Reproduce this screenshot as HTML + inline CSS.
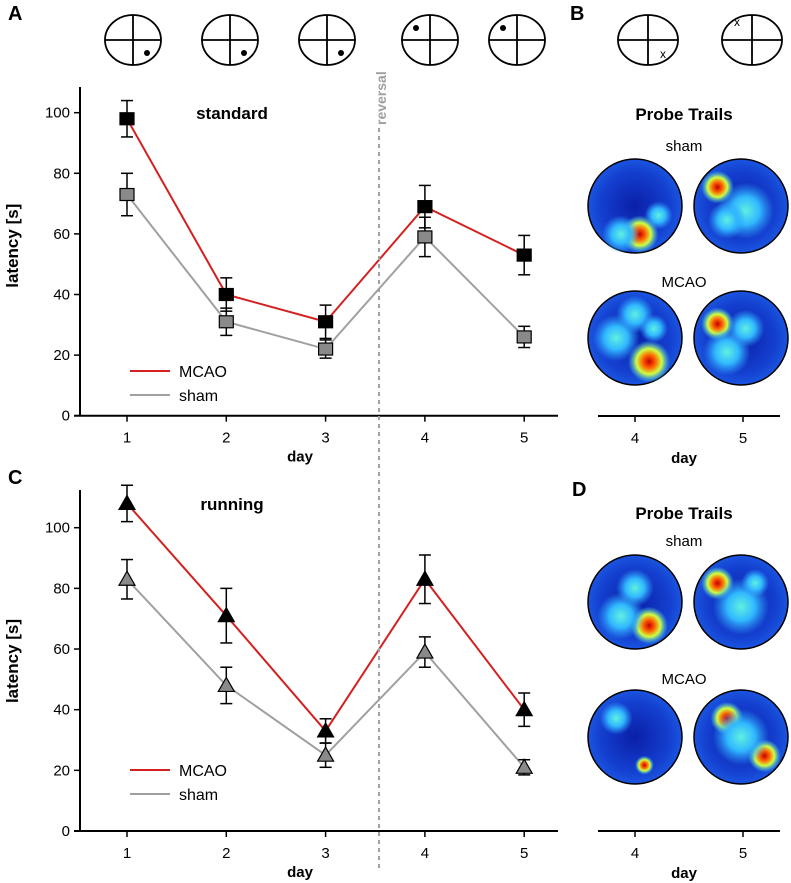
<!DOCTYPE html>
<html><head><meta charset="utf-8">
<style>
body{margin:0;background:#fff;}
svg{display:block;font-family:"Liberation Sans",Arial,sans-serif;}
</style></head>
<body>
<svg id="fig" width="791" height="883" viewBox="0 0 791 883">
<defs>
<radialGradient id="bg" cx="50%" cy="50%" r="50%">
<stop offset="0" stop-color="#0a1fa8"/><stop offset="0.75" stop-color="#1440d0"/><stop offset="1" stop-color="#1a55e0"/>
</radialGradient>
<radialGradient id="hot" cx="50%" cy="50%" r="50%">
<stop offset="0" stop-color="#c00000"/><stop offset="0.3" stop-color="#ff6000"/><stop offset="0.6" stop-color="#d0ff40"/><stop offset="1" stop-color="#40e0ff" stop-opacity="0"/>
</radialGradient>
<radialGradient id="warm" cx="50%" cy="50%" r="50%">
<stop offset="0" stop-color="#60f0e0"/><stop offset="0.5" stop-color="#30b8ff"/><stop offset="1" stop-color="#30a0ff" stop-opacity="0"/>
</radialGradient>
</defs>
<g id="chartA"></g>
<g id="chartC"></g>
<g id="extras"></g>
</svg>
<script>
const days = [1,2,3,4,5];
const stdMcao = [98,40,31,69,53];
const stdMcaoErr = [6,5.5,5.5,7,6.5];
const stdSham = [73,31,22,59,26];
const stdShamErr = [7,4.5,3,6.5,3.5];
const runMcao = [108,71,33,83,40];
const runMcaoErr = [6,9,4,8,5.5];
const runSham = [83,48,25,59,21];
const runShamErr = [6.5,6,4,5,2.5];
const yTicksA = [0,20,40,60,80,100];
const yTicksC = [0,20,40,60,80,100];

const NS="http://www.w3.org/2000/svg";
function mk(parent,tag,attrs,text){const e=document.createElementNS(NS,tag);for(const k in attrs)e.setAttribute(k,attrs[k]);if(text!==undefined)e.textContent=text;parent.appendChild(e);return e;}

function drawChart(g,cfg){
  const xs=d=>127+(d-1)*99.3;
  const ys=v=>cfg.y0-v*cfg.k;
  const yax=mk(g,'line',{x1:80,y1:cfg.top,x2:80,y2:cfg.y0,stroke:'#000','stroke-width':2});
  
  const xax=mk(g,'line',{x1:74,y1:cfg.y0,x2:558,y2:cfg.y0,stroke:'#000','stroke-width':2});
  
  cfg.yt.forEach(v=>{
    mk(g,'line',{x1:74,y1:ys(v),x2:80,y2:ys(v),stroke:'#000','stroke-width':1.5});
    const t=mk(g,'text',{x:70,y:ys(v)+5,'text-anchor':'end','font-size':15},String(v));
    
  });
  days.forEach(d=>{
    mk(g,'line',{x1:xs(d),y1:cfg.y0,x2:xs(d),y2:cfg.y0+6,stroke:'#000','stroke-width':1.5});
    const t=mk(g,'text',{x:xs(d),y:cfg.y0+27,'text-anchor':'middle','font-size':15},String(d));
    
  });
  const xl=mk(g,'text',{x:300,y:cfg.y0+46,'text-anchor':'middle','font-size':15,'font-weight':'bold'},'day');
  
  const yl=mk(g,'text',{x:0,y:0,'text-anchor':'middle','font-size':17,'font-weight':'bold',transform:`translate(18,${cfg.y0-170}) rotate(-90)`},'latency [s]');
  
  const tt=mk(g,'text',{x:232,y:cfg.titleY,'text-anchor':'middle','font-size':17,'font-weight':'bold'},cfg.title);
  
  const series=[[cfg.sham,cfg.shamE,'#a0a0a0','#8a8a8a','sham'],[cfg.mcao,cfg.mcaoE,'#d42020','#000','mcao']];
  series.forEach(([vals,errs,lc,fc,nm])=>{
    const pl=mk(g,'polyline',{points:vals.map((v,i)=>xs(days[i])+','+ys(v)).join(' '),fill:'none',stroke:lc,'stroke-width':2});
    
    vals.forEach((v,i)=>{
      const x=xs(days[i]),y=ys(v),e=errs[i];
      mk(g,'line',{x1:x,y1:ys(v+e),x2:x,y2:ys(v-e),stroke:'#000','stroke-width':1.5});
      mk(g,'line',{x1:x-6,y1:ys(v+e),x2:x+6,y2:ys(v+e),stroke:'#000','stroke-width':1.5});
      mk(g,'line',{x1:x-6,y1:ys(v-e),x2:x+6,y2:ys(v-e),stroke:'#000','stroke-width':1.5});
      let m;
      if(cfg.marker==='sq') m=mk(g,'rect',{x:x-7,y:y-6,width:14,height:12,fill:fc,stroke:'#000','stroke-width':1.2});
      else m=mk(g,'polygon',{points:`${x},${y-8} ${x-8},${y+6} ${x+8},${y+6}`,fill:fc,stroke:'#000','stroke-width':1.2});
      
    });
  });
  const ly=cfg.legY;
  mk(g,'line',{x1:130,y1:ly,x2:170,y2:ly,stroke:'#d42020','stroke-width':2});
  const l1=mk(g,'text',{x:179,y:ly+6,'font-size':16},'MCAO');
  
  mk(g,'line',{x1:130,y1:ly+24,x2:170,y2:ly+24,stroke:'#a0a0a0','stroke-width':2});
  const l2=mk(g,'text',{x:179,y:ly+30,'font-size':16},'sham');
  
}
drawChart(document.getElementById('chartA'),{y0:415.7,k:3.03,top:87,yt:yTicksA,mcao:stdMcao,mcaoE:stdMcaoErr,sham:stdSham,shamE:stdShamErr,marker:'sq',title:'standard',titleY:119,legY:371});
drawChart(document.getElementById('chartC'),{y0:831,k:3.033,top:490,yt:yTicksC,mcao:runMcao,mcaoE:runMcaoErr,sham:runSham,shamE:runShamErr,marker:'tri',title:'running',titleY:510,legY:770});

const ex=document.getElementById('extras');
[['A',8,20],['B',570,20],['C',8,484],['D',572,496]].forEach(([l,x,y])=>{
  const t=mk(ex,'text',{x:x,y:y,'font-size':20,'font-weight':'bold'},l);
  
});
const rv=mk(ex,'line',{x1:379,y1:80,x2:379,y2:868,stroke:'#a0a0a0','stroke-width':2,'stroke-dasharray':'4,4'});

mk(ex,'rect',{x:372,y:78,width:14,height:50,fill:'#fff'});
const rt=mk(ex,'text',{x:0,y:0,'font-size':14,fill:'#a0a0a0','font-weight':'bold',transform:'translate(386,125) rotate(-90)'},'reversal');

[[133,1],[230,1],[327,1],[430,0],[517,0]].forEach(([cx,br])=>{
  const g=mk(ex,'g',{});
  
  mk(g,'ellipse',{cx:cx,cy:40,rx:28,ry:25,fill:'#fff',stroke:'#000','stroke-width':1.8});
  mk(g,'line',{x1:cx-28,y1:40,x2:cx+28,y2:40,stroke:'#000','stroke-width':1.8});
  mk(g,'line',{x1:cx,y1:15,x2:cx,y2:65,stroke:'#000','stroke-width':1.8});
  mk(g,'circle',{cx:br?cx+14:cx-14,cy:br?53:28,r:3,fill:'#000'});
});
[[648,1],[752,0]].forEach(([cx,br])=>{
  const g=mk(ex,'g',{});
  
  mk(g,'ellipse',{cx:cx,cy:40,rx:30,ry:25,fill:'#fff',stroke:'#000','stroke-width':1.8});
  mk(g,'line',{x1:cx-30,y1:40,x2:cx+30,y2:40,stroke:'#000','stroke-width':1.8});
  mk(g,'line',{x1:cx,y1:15,x2:cx,y2:65,stroke:'#000','stroke-width':1.8});
  mk(g,'text',{x:br?cx+15:cx-15,y:br?58:26,'text-anchor':'middle','font-size':12},'x');
});
function heat(cx,cy,r,spots){
  const g=mk(ex,'g',{});
  
  mk(g,'circle',{cx:cx,cy:cy,r:r,fill:'url(#bg)',stroke:'#000','stroke-width':1.5});
  spots.forEach(([dx,dy,s,h])=>mk(g,'circle',{cx:cx+dx*r,cy:cy+dy*r,r:s*r,fill:h?'url(#hot)':'url(#warm)'}));
}
function probePanel(o){
  const t=mk(ex,'text',{x:684,y:o.ty,'text-anchor':'middle','font-size':17,'font-weight':'bold'},'Probe Trails');
  
  const s=mk(ex,'text',{x:684,y:o.sy,'text-anchor':'middle','font-size':15},'sham');
  
  const m=mk(ex,'text',{x:684,y:o.my,'text-anchor':'middle','font-size':15},'MCAO');
  
  heat(635,o.c1,47,o.a);heat(741,o.c1,47,o.b);heat(635,o.c2,47,o.c);heat(741,o.c2,47,o.d);
  mk(ex,'line',{x1:598,y1:o.ax,x2:780,y2:o.ax,stroke:'#000','stroke-width':2});
  [[635,'4'],[743,'5']].forEach(([x,l])=>{
    mk(ex,'line',{x1:x,y1:o.ax,x2:x,y2:o.ax+6,stroke:'#000','stroke-width':1.5});
    const tl=mk(ex,'text',{x:x,y:o.ax+27,'text-anchor':'middle','font-size':15},l);
    
  });
  const d=mk(ex,'text',{x:684,y:o.ax+47,'text-anchor':'middle','font-size':15,'font-weight':'bold'},'day');
  
}
probePanel({ty:120,sy:151,my:287,c1:206,c2:338,ax:416,
 a:[[0.1,0.6,0.4,1],[-0.3,0.6,0.4,0],[0.5,0.2,0.3,0]],
 b:[[-0.5,-0.4,0.35,1],[0.1,0.1,0.6,0],[-0.3,0.3,0.4,0]],
 c:[[0.3,0.5,0.45,1],[-0.4,0,0.5,0],[0,-0.5,0.4,0],[0.4,-0.2,0.3,0]],
 d:[[-0.5,-0.3,0.35,1],[-0.3,0.3,0.5,0],[0.1,-0.2,0.4,0]]});
probePanel({ty:519,sy:546,my:684,c1:602,c2:737,ax:831,
 a:[[0.3,0.5,0.4,1],[-0.3,0.3,0.5,0],[0,-0.3,0.4,0]],
 b:[[-0.5,-0.4,0.35,1],[0,0.1,0.6,0],[0.3,-0.4,0.3,0]],
 c:[[0.2,0.6,0.2,1],[-0.4,-0.4,0.35,0]],
 d:[[0.5,0.4,0.35,1],[-0.3,-0.4,0.35,1],[0,0,0.6,0]]});
</script>
</body></html>
